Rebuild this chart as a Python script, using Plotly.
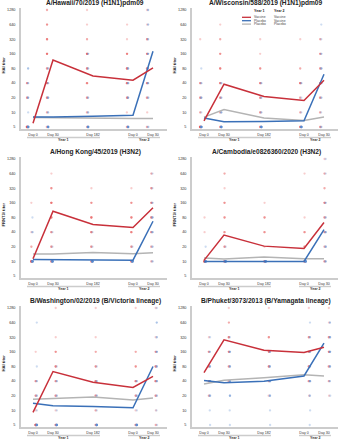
import numpy as np
import plotly.graph_objects as go

# ---------------- data ----------------
LEVELS = [5, 10, 20, 40, 80, 160, 320, 640, 1280]
TIME_POS = [0, 1, 3, 5, 6]
TIME_LABELS = ["Day 0", "Day 30", "Day 182", "Day 0", "Day 30"]
YEAR_LABELS = ["Year 1", "Year 2"]

TITLES = ["A/Hawaii/70/2019 (H1N1)pdm09", "A/Wisconsin/588/2019 (H1N1)pdm09",
          "A/Hong Kong/45/2019 (H3N2)", "A/Cambodia/e0826360/2020 (H3N2)",
          "B/Washington/02/2019 (B/Victoria lineage)", "B/Phuket/3073/2013 (B/Yamagata lineage)"]
YTITLES = ["HAI titer", "HAI titer", "FRNT<sub>50</sub> titer", "FRNT<sub>50</sub> titer",
           "HAI titer", "HAI titer"]

GROUPS = ["Vaccine", "Placebo", "Placebo"]
GROUPS_Y2 = ["Vaccine", "Vaccine", "Placebo"]

# geometric mean titers (Vaccine/Vaccine, Placebo/Vaccine, Placebo/Placebo)
hawaii_vv = [6.0, 120, 56, 46, 82]
hawaii_pv = [8.0, 8.0, 8.3, 8.7, 181]
hawaii_pp = [7.8, 7.7, 7.6, 7.5, 7.5]
wisc_vv = [6.7, 38, 21.3, 17.6, 46]
wisc_pv = [7.7, 6.4, 6.5, 6.7, 61]
wisc_pp = [8.0, 11.5, 7.7, 6.8, 8.0]
hk_vv = [11.3, 108, 57.5, 50, 127]
hk_pv = [10.9, 10.8, 10.8, 10.6, 67]
hk_pp = [14.2, 14.2, 15.3, 14.4, 15.0]
camb_vv = [10.5, 34.8, 20.6, 18.5, 63]
camb_pv = [10.0, 10.0, 10.0, 10.0, 45]
camb_pp = [11.7, 11.2, 12.3, 11.3, 11.3]
wash_vv = [9.1, 63, 38, 29.7, 50]
wash_pv = [14.0, 12.5, 12.0, 11.3, 80]
wash_pp = [16.9, 17.7, 18.9, 16.3, 17.9]
phuk_vv = [60, 283, 173, 155, 200]
phuk_pv = [41, 37, 40, 51, 241]
phuk_pp = [35, 41.5, 47, 54, 51]

# individual titres: counts per level (5..1280) at each time point
hawaii_vac_counts = [[10, 0, 3, 3, 0, 0, 0, 0, 0], [2, 2, 4, 4, 3, 5, 4, 3, 2],
                     [2, 2, 3, 4, 4, 6, 2, 1, 1], [3, 1, 4, 5, 5, 4, 1, 1, 0],
                     [2, 1, 3, 4, 4, 4, 3, 1, 1]]
hawaii_pla_counts = [[12, 1, 3, 2, 2, 0, 0, 0, 0], [10, 2, 3, 2, 2, 0, 0, 0, 0],
                     [10, 2, 2, 0, 2, 2, 0, 0, 0], [8, 0, 3, 3, 3, 0, 0, 0, 0],
                     [2, 0, 2, 3, 3, 3, 2, 2, 2]]
wisc_vac_counts = [[10, 2, 3, 3, 0, 0, 1, 0, 0], [3, 2, 3, 4, 4, 3, 2, 1, 0],
                   [3, 3, 3, 4, 3, 1, 1, 0, 0], [4, 2, 2, 5, 2, 0, 1, 0, 0],
                   [3, 2, 3, 4, 3, 3, 2, 0, 0]]
wisc_pla_counts = [[10, 1, 3, 2, 1, 0, 0, 0, 0], [10, 3, 2, 2, 0, 0, 0, 0, 0],
                   [10, 2, 2, 2, 0, 0, 0, 0, 0], [10, 1, 1, 2, 0, 0, 0, 0, 0],
                   [2, 1, 2, 3, 3, 2, 1, 1, 0]]
hk_vac_counts = [[0, 10, 2, 1, 0, 1, 0, 0, 0], [0, 4, 3, 3, 4, 5, 3, 1, 0],
                 [0, 4, 3, 4, 5, 3, 1, 0, 0], [0, 5, 3, 4, 4, 3, 1, 0, 0],
                 [0, 2, 2, 3, 4, 4, 3, 2, 0]]
hk_pla_counts = [[0, 12, 0, 2, 1, 0, 0, 0, 0], [0, 12, 1, 1, 0, 0, 0, 0, 0],
                 [0, 12, 1, 1, 0, 0, 0, 0, 0], [0, 12, 1, 0, 0, 0, 0, 0, 0],
                 [0, 2, 2, 3, 3, 2, 1, 1, 0]]
camb_vac_counts = [[0, 12, 0, 1, 1, 0, 0, 0, 0], [0, 6, 3, 3, 3, 3, 1, 2, 0],
                   [0, 6, 1, 3, 3, 1, 0, 0, 0], [0, 6, 3, 3, 1, 0, 0, 1, 0],
                   [0, 3, 2, 3, 3, 4, 2, 2, 1]]
camb_pla_counts = [[0, 12, 1, 0, 0, 0, 0, 0, 0], [0, 12, 1, 0, 0, 0, 0, 0, 0],
                   [0, 12, 0, 0, 0, 0, 0, 0, 0], [0, 12, 0, 0, 0, 0, 0, 0, 0],
                   [0, 3, 3, 3, 2, 2, 0, 1, 1]]
wash_vac_counts = [[10, 1, 3, 3, 0, 1, 0, 0, 0], [4, 1, 3, 3, 4, 3, 1, 0, 1],
                   [3, 2, 3, 4, 3, 2, 1, 0, 1], [3, 1, 3, 4, 3, 2, 0, 0, 1],
                   [2, 1, 3, 4, 4, 3, 1, 0, 1]]
wash_pla_counts = [[10, 1, 2, 2, 1, 0, 0, 1, 0], [10, 1, 2, 2, 1, 0, 0, 0, 0],
                   [10, 1, 2, 2, 1, 0, 0, 0, 0], [10, 1, 2, 2, 0, 0, 0, 0, 0],
                   [1, 1, 2, 3, 3, 3, 2, 2, 1]]
phuk_vac_counts = [[0, 0, 2, 4, 3, 3, 1, 0, 0], [0, 0, 0, 2, 3, 4, 4, 2, 1],
                   [0, 0, 1, 3, 4, 4, 3, 0, 1], [0, 0, 1, 3, 4, 4, 3, 0, 1],
                   [0, 0, 1, 2, 3, 4, 3, 1, 1]]
phuk_pla_counts = [[1, 1, 3, 5, 3, 2, 1, 0, 0], [1, 1, 3, 4, 3, 3, 1, 0, 0],
                   [1, 1, 3, 4, 3, 3, 0, 0, 0], [1, 1, 2, 4, 3, 3, 2, 1, 0],
                   [0, 0, 1, 2, 3, 4, 3, 2, 0]]

PANELS = [
    (hawaii_vv, hawaii_pv, hawaii_pp, hawaii_vac_counts, hawaii_pla_counts),
    (wisc_vv, wisc_pv, wisc_pp, wisc_vac_counts, wisc_pla_counts),
    (hk_vv, hk_pv, hk_pp, hk_vac_counts, hk_pla_counts),
    (camb_vv, camb_pv, camb_pp, camb_vac_counts, camb_pla_counts),
    (wash_vv, wash_pv, wash_pp, wash_vac_counts, wash_pla_counts),
    (phuk_vv, phuk_pv, phuk_pp, phuk_vac_counts, phuk_pla_counts),
]

# ---------------- style ----------------
W, H = 343, 440
FONT = "Liberation Sans"
RED, BLUE, GRAY = "#c8303a", "#3a70b8", "#b4b4b4"
PT_RED, PT_BLUE = "rgba(232,90,90,0.3)", "rgba(90,140,210,0.3)"
AXC = "#cccccc"
COLS = [(21, 167), (192, 338)]
ROWS = [(8, 129), (157, 278), (306, 427)]
PAD = 0.041
YR = [np.log10(5) - PAD, np.log10(1280) + PAD]
XR = [-0.6, 6.7]


def px(x):
    return x / W


def py(y):
    return 1 - y / H


fig = go.Figure()
layout = dict(width=W, height=H, margin=dict(l=0, r=0, t=0, b=0),
              paper_bgcolor="white", plot_bgcolor="white", showlegend=False,
              boxmode="group", boxgap=0.35, boxgroupgap=0.1,
              font=dict(family=FONT, color="#333"))
annotations, shapes = [], []

for i, (vv, pv, pp, vc, pc) in enumerate(PANELS):
    r, c = divmod(i, 2)
    n = "" if i == 0 else str(i + 1)
    xa, ya = "x" + n, "y" + n
    x0, x1 = COLS[c]
    yt, yb = ROWS[r]
    layout["xaxis" + n] = dict(domain=[px(x0), px(x1)], range=XR, anchor=ya,
                               tickvals=TIME_POS, ticktext=TIME_LABELS,
                               tickfont=dict(size=3.6), showline=True, linecolor=AXC,
                               linewidth=1.5, showgrid=False, zeroline=False, ticks="",
                               ticklabelstandoff=1)
    layout["yaxis" + n] = dict(domain=[py(yb), py(yt)], range=YR, type="log", anchor=xa,
                               tickvals=LEVELS, ticktext=[str(v) for v in LEVELS],
                               tickfont=dict(size=3.8), showline=True, linecolor=AXC,
                               linewidth=1.5, showgrid=False, zeroline=False, ticks="",
                               ticklabelstandoff=3)
    for counts, col, name in ((vc, PT_RED, "Vaccine"), (pc, PT_BLUE, "Placebo")):
        xs, ys = [], []
        for t, cnt in enumerate(counts):
            vals = np.repeat(LEVELS, cnt)
            ys.extend(vals.tolist())
            xs.extend([TIME_POS[t]] * len(vals))
        fig.add_trace(go.Box(x=xs, y=ys, xaxis=xa, yaxis=ya, name=name,
                             boxpoints="all", jitter=0.7, pointpos=0,
                             fillcolor="rgba(0,0,0,0)", line=dict(width=0),
                             whiskerwidth=0,
                             marker=dict(color=col, size=2.3, line=dict(width=0)),
                             hoverinfo="skip"))
    for vals, col in ((pp, GRAY), (pv, BLUE), (vv, RED)):
        fig.add_trace(go.Scatter(x=TIME_POS, y=vals, xaxis=xa, yaxis=ya, mode="lines",
                                 line=dict(color=col, width=1.5), hoverinfo="skip"))
    # title
    annotations.append(dict(text="<b>" + TITLES[i] + "</b>", x=px((x0 + x1) / 2 + 1),
                            y=py(yt - 5), xref="paper", yref="paper", showarrow=False,
                            font=dict(size=6.6, color="#222"), xanchor="center",
                            yanchor="middle", borderpad=0))
    # y title
    annotations.append(dict(text="<b>" + YTITLES[i] + "</b>", x=px(x0 - 18), y=py((yt + yb) / 2 - 3),
                            xref="paper", yref="paper", showarrow=False, textangle=-90,
                            font=dict(size=4.2, color="#222"), xanchor="center",
                            yanchor="middle", borderpad=0))
    # year brackets
    for (a, b), lab in zip(((-0.3, 3.35), (4.75, 6.35)), YEAR_LABELS):
        shapes.append(dict(type="line", xref=xa, yref="paper", x0=a, x1=b,
                           y0=py(yb + 8.5), y1=py(yb + 8.5),
                           line=dict(color=AXC, width=1.4)))
        annotations.append(dict(text="<b>" + lab + "</b>", xref=xa, yref="paper",
                                x=(a + b) / 2, y=py(yb + 11), showarrow=False,
                                font=dict(size=3.6, color="#333"), xanchor="center",
                                yanchor="middle", borderpad=0))

# manual legend in panel 2
LX_LINE0, LX_LINE1, LX_T1, LX_T2 = 242, 251, 253, 273
for txt, xx in (("<b>Year 1</b>", LX_T1), ("<b>Year 2</b>", LX_T2)):
    annotations.append(dict(text=txt, x=px(xx), y=py(10.7), xref="paper",
                            yref="paper", showarrow=False, xanchor="left", yanchor="middle",
                            font=dict(size=3.6, color="#222"), borderpad=0))
for k, (col, g1, g2) in enumerate(zip((RED, BLUE, GRAY), GROUPS, GROUPS_Y2)):
    yy = 17.3 + k * 3.4
    shapes.append(dict(type="line", xref="paper", yref="paper", x0=px(LX_LINE0),
                       x1=px(LX_LINE1), y0=py(yy), y1=py(yy), line=dict(color=col, width=1.3)))
    for txt, xx in ((g1, LX_T1), (g2, LX_T2)):
        annotations.append(dict(text=txt, x=px(xx), y=py(yy), xref="paper", yref="paper",
                                showarrow=False, xanchor="left", yanchor="middle",
                                font=dict(size=3.3, color="#444"), borderpad=0))

layout["annotations"] = annotations
layout["shapes"] = shapes
fig.update_layout(**layout)
fig.write_html("out.html", config={"displayModeBar": False},
               post_script="document.body.style.margin='0';")
